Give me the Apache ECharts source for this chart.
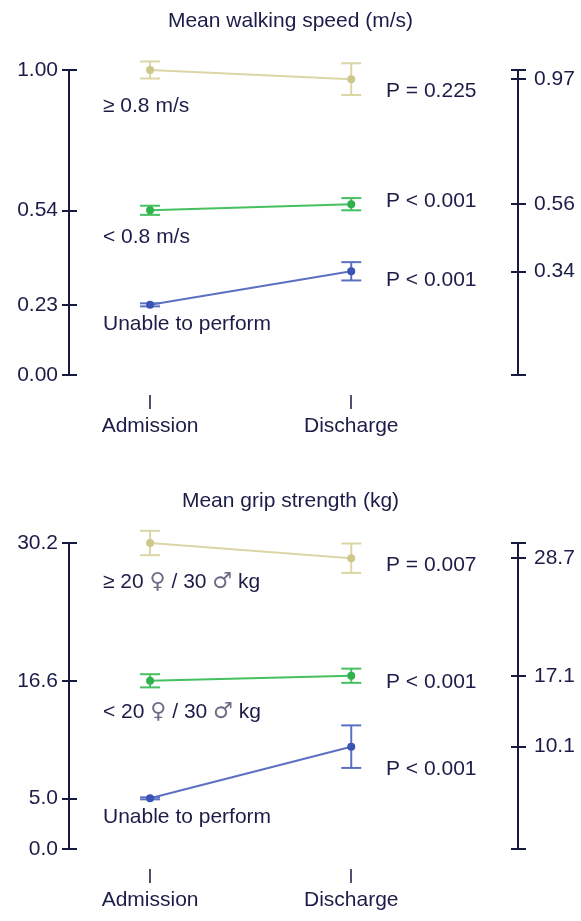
<!DOCTYPE html>
<html>
<head>
<meta charset="utf-8">
<script src="https://cdn.jsdelivr.net/npm/echarts@6/dist/echarts.min.js"></script>
<style>html,body{margin:0;padding:0;background:#fff}#c{width:581px;height:921px}</style>
</head>
<body>
<div id="c"></div>
<script>
// ---- data ----
const categories = ['Admission', 'Discharge'];

const walkTitle = 'Mean walking speed (m/s)';
const walkGroups = ['≥ 0.8 m/s', '< 0.8 m/s', 'Unable to perform'];
const walkMean = [[1.00, 0.97], [0.54, 0.56], [0.23, 0.34]];
const walkErr = [[0.028, 0.052], [0.015, 0.02], [0.005, 0.03]];
const walkP = ['P = 0.225', 'P < 0.001', 'P < 0.001'];
const walkLeftTicks = [0.00, 0.23, 0.54, 1.00];
const walkRightTicks = [0.34, 0.56, 0.97];
const walkRange = [0, 1.0];

const gripTitle = 'Mean grip strength (kg)';
const gripGroups = ['≥ 20 ♀ / 30 ♂ kg', '< 20 ♀ / 30 ♂ kg', 'Unable to perform'];
const gripMean = [[30.2, 28.7], [16.6, 17.1], [5.0, 10.1]];
const gripErr = [[1.2, 1.45], [0.65, 0.7], [0.1, 2.1]];
const gripP = ['P = 0.007', 'P < 0.001', 'P < 0.001'];
const gripLeftTicks = [0.0, 5.0, 16.6, 30.2];
const gripRightTicks = [10.1, 17.1, 28.7];
const gripRange = [0, 30.2];

// ---- style ----
const NAVY = '#17193f';
const TXT = '#1b1d48';
const FONT = '"Liberation Sans", "DejaVu Sans", Arial, sans-serif';
const FS = 21;
const lineColors = ['#dbd6a6', '#46c060', '#5b70c2'];
const dotColors = ['#cdc78c', '#2fb24c', '#3a54b4'];

const chart = echarts.init(document.getElementById('c'), null, {renderer: 'canvas'});

const grids = [
  {left: 69, right: 63, top: 70, height: 305},
  {left: 69, right: 63, top: 543, height: 306}
];

const xAxes = [], yAxes = [], series = [], graphics = [];

// wrap gender symbols in a rich style so they render with a font that has them
function richText(s) {
  return s.replace(/([♀♂])/g, '{sym|$1}');
}
const richStyles = {
  sym: {font: '22px "DejaVu Sans", sans-serif', fill: '#6b6d85'}
};

function panel(gi, means, errs, groups, pvals, leftTicks, rightTicks, range, dec, groupY, pY) {
  xAxes.push({
    gridIndex: gi, type: 'value', min: -0.403, max: 1.829, offset: 20, position: 'bottom',
    axisLine: {show: false, onZero: false}, splitLine: {show: false},
    axisTick: {show: true, length: 14, customValues: [0, 1], lineStyle: {color: NAVY, width: 1.5}},
    axisLabel: {customValues: [0, 1], margin: 21, color: TXT, fontSize: FS, fontFamily: FONT,
      formatter: v => categories[Math.round(v)] || ''}
  });
  const base = yAxes.length;
  const common = {gridIndex: gi, type: 'value', min: range[0], max: range[1], splitLine: {show: false},
    axisLine: {show: true, onZero: false, lineStyle: {color: NAVY, width: 2}}};
  // left, outside ticks + labels
  yAxes.push(Object.assign({}, common, {position: 'left',
    axisTick: {show: true, inside: false, length: 7, customValues: leftTicks, lineStyle: {color: NAVY, width: 2}},
    axisLabel: {show: true, customValues: leftTicks, margin: 11, color: TXT, fontSize: FS, fontFamily: FONT,
      formatter: v => v.toFixed(dec)}}));
  // left, inside ticks
  yAxes.push(Object.assign({}, common, {position: 'left',
    axisTick: {show: true, inside: true, length: 8, customValues: leftTicks, lineStyle: {color: NAVY, width: 2}},
    axisLabel: {show: false}}));
  const rEnds = [range[0]].concat(rightTicks, [range[1]]);
  // right, outside ticks + labels
  yAxes.push(Object.assign({}, common, {position: 'right',
    axisTick: {show: true, inside: false, length: 8, customValues: rEnds, lineStyle: {color: NAVY, width: 2}},
    axisLabel: {show: true, customValues: rightTicks, margin: 16, color: TXT, fontSize: FS, fontFamily: FONT,
      formatter: v => v.toFixed(dec)}}));
  // right, inside ticks
  yAxes.push(Object.assign({}, common, {position: 'right',
    axisTick: {show: true, inside: true, length: 7, customValues: rEnds, lineStyle: {color: NAVY, width: 2}},
    axisLabel: {show: false}}));

  means.forEach((m, k) => {
    // error bars
    series.push({
      type: 'custom', xAxisIndex: gi, yAxisIndex: base, z: 2,
      data: m.map((v, i) => [i, v - errs[k][i], v + errs[k][i]]),
      renderItem: (params, api) => {
        const lo = api.coord([api.value(0), api.value(1)]);
        const hi = api.coord([api.value(0), api.value(2)]);
        const w = 10;
        const st = {stroke: lineColors[k], lineWidth: 2, fill: null};
        return {type: 'group', children: [
          {type: 'line', shape: {x1: lo[0], y1: lo[1], x2: hi[0], y2: hi[1]}, style: st},
          {type: 'line', shape: {x1: lo[0] - w, y1: lo[1], x2: lo[0] + w, y2: lo[1]}, style: st},
          {type: 'line', shape: {x1: hi[0] - w, y1: hi[1], x2: hi[0] + w, y2: hi[1]}, style: st}
        ]};
      }
    });
    // means
    series.push({
      type: 'line', xAxisIndex: gi, yAxisIndex: base, z: 3,
      data: m.map((v, i) => [i, v]),
      symbol: 'circle', symbolSize: 8,
      lineStyle: {color: lineColors[k], width: 2},
      itemStyle: {color: dotColors[k]}
    });
    graphics.push({type: 'text', left: 103, top: groupY[k] - 12,
      style: {text: richText(groups[k]), fill: TXT, font: FS + 'px ' + FONT, rich: richStyles}});
    graphics.push({type: 'text', left: 386, top: pY[k] - 12,
      style: {text: pvals[k], fill: TXT, font: FS + 'px ' + FONT}});
  });
}

panel(0, walkMean, walkErr, walkGroups, walkP, walkLeftTicks, walkRightTicks, walkRange, 2, [108, 239, 326], [93, 203, 282]);
panel(1, gripMean, gripErr, gripGroups, gripP, gripLeftTicks, gripRightTicks, gripRange, 1, [583, 713, 819], [567, 684, 771]);

chart.setOption({
  animation: false,
  backgroundColor: '#ffffff',
  title: [
    {text: walkTitle, left: 'center', top: 6, textStyle: {color: TXT, fontSize: FS, fontWeight: 'normal', fontFamily: FONT}},
    {text: gripTitle, left: 'center', top: 486, textStyle: {color: TXT, fontSize: FS, fontWeight: 'normal', fontFamily: FONT}}
  ],
  grid: grids,
  xAxis: xAxes,
  yAxis: yAxes,
  series: series,
  graphic: graphics
});
</script>
</body>
</html>
